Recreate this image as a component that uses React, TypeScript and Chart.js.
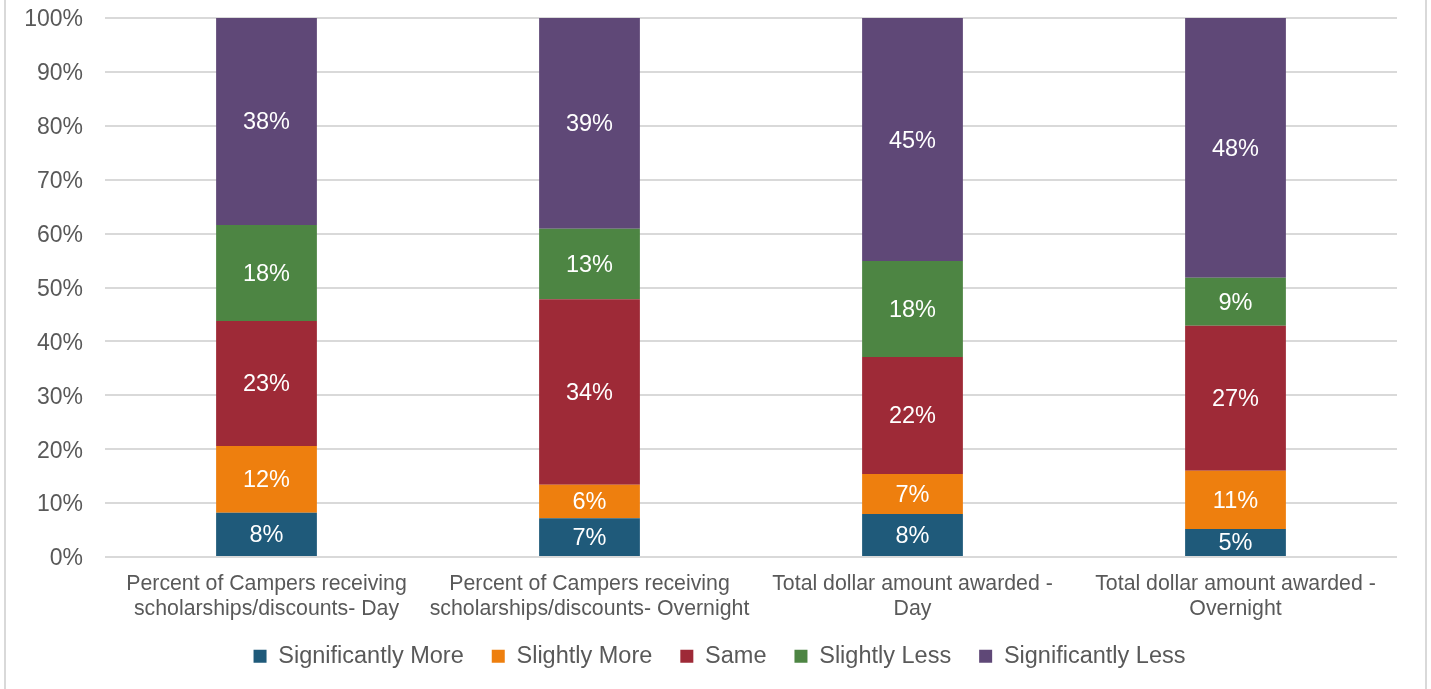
import React, { useEffect, useRef } from "react";
import { Chart, registerables } from "chart.js";

Chart.register(...registerables);

const categories: string[][] = [
  ["Percent of Campers receiving", "scholarships/discounts- Day"],
  ["Percent of Campers receiving", "scholarships/discounts- Overnight"],
  ["Total dollar amount awarded -", "Day"],
  ["Total dollar amount awarded -", "Overnight"],
];

const seriesNames = ["Significantly More", "Slightly More", "Same", "Slightly Less", "Significantly Less"];
const significantlyMore = [8.2, 7.2, 8.0, 5.2];
const slightlyMore = [12.4, 6.2, 7.4, 10.8];
const same = [23.2, 34.4, 21.7, 26.9];
const slightlyLess = [17.8, 13.1, 17.8, 8.9];
const significantlyLess = [38.4, 39.1, 45.1, 48.2];
const seriesColors = ["#1f5a7a", "#ee7f0e", "#9e2a37", "#4d8543", "#5f4877"];

const yTicks = [0, 10, 20, 30, 40, 50, 60, 70, 80, 90, 100];

const FONT = "'Liberation Sans', Arial, sans-serif";

const dataLabelPlugin = {
  id: "dataLabels",
  afterDatasetsDraw(chart: any) {
    const ctx = chart.ctx;
    ctx.save();
    ctx.fillStyle = "#ffffff";
    ctx.font = `23.5px ${FONT}`;
    ctx.textAlign = "center";
    ctx.textBaseline = "middle";
    chart.data.datasets.forEach((ds: any, di: number) => {
      const meta = chart.getDatasetMeta(di);
      meta.data.forEach((el: any, i: number) => {
        const v = ds.data[i];
        const y = (el.y + el.base) / 2;
        ctx.fillText(Math.round(v) + "%", el.x, y + 1.5);
      });
    });
    ctx.restore();
  },
};

export default function App() {
  const ref = useRef<HTMLCanvasElement | null>(null);
  useEffect(() => {
    if (!ref.current) return;
    const values = [significantlyMore, slightlyMore, same, slightlyLess, significantlyLess];
    const chart = new Chart(ref.current, {
      type: "bar",
      data: {
        labels: categories,
        datasets: seriesNames.map((name, i) => ({
          label: name,
          data: values[i],
          backgroundColor: seriesColors[i],
          borderWidth: 0,
          barPercentage: 0.312,
          categoryPercentage: 1,
        })),
      },
      options: {
        responsive: false,
        animation: false,
        layout: { padding: { left: 42, right: 34, top: 18, bottom: 11 } },
        plugins: {
          tooltip: { enabled: false },
          legend: {
            position: "bottom",
            labels: {
              font: { family: FONT, size: 23.5 },
              color: "#595959",
              boxWidth: 13,
              boxHeight: 13,
              padding: 28,
            },
          },
        },
        scales: {
          x: {
            stacked: true,
            grid: { display: false },
            border: { display: false },
            ticks: {
              color: "#595959",
              font: { family: FONT, size: 21.3, lineHeight: 1.2 },
              padding: 6,
              maxRotation: 0,
              autoSkip: false,
            },
            afterFit(scale: any) {
              scale.height = 59.5;
              scale.paddingLeft = 0;
              scale.paddingRight = 0;
              scale._computeLabelArea = () => undefined;
            },
          },
          y: {
            stacked: true,
            min: 0,
            max: 100,
            afterBuildTicks(scale: any) {
              scale.ticks = yTicks.map((v) => ({ value: v }));
            },
            grid: { color: "#d9d9d9", lineWidth: 2, drawTicks: false },
            border: { display: false },
            ticks: {
              color: "#595959",
              font: { family: FONT, size: 23 },
              padding: 22,
              labelOffset: 2,
              callback: (v: any) => v + "%",
            },
            afterFit(scale: any) {
              scale.width = 63;
              scale.paddingTop = 0;
              scale.paddingBottom = 0;
              scale._computeLabelArea = () => undefined;
            },
          },
        },
      },
      plugins: [dataLabelPlugin],
    });
    return () => chart.destroy();
  }, []);

  return (
    <div style={{ position: "fixed", left: 0, top: 0, width: 1431, height: 689, background: "#fff" }}>
      <div
        style={{
          position: "absolute",
          left: 4,
          top: -5,
          width: 1419,
          height: 700,
          borderLeft: "2px solid #d9d9d9",
          borderRight: "2px solid #d9d9d9",
        }}
      />
      <canvas ref={ref} width={1431} height={689} style={{ position: "absolute", left: 0, top: 0 }} />
    </div>
  );
}
